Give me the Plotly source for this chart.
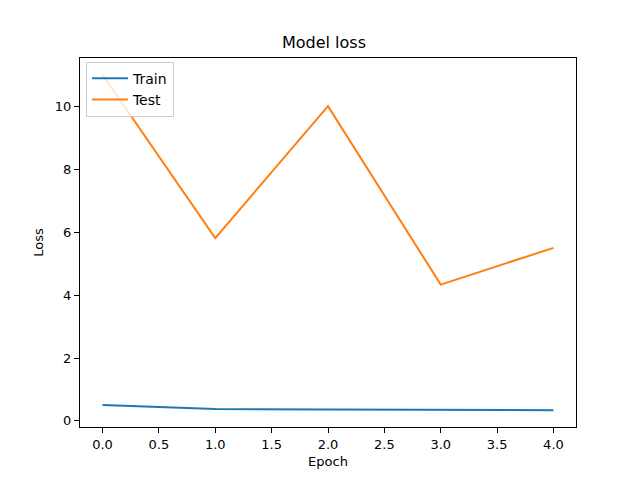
import plotly.graph_objects as go

epochs = [0, 1, 2, 3, 4]
train_loss = [0.51, 0.38, 0.36, 0.35, 0.34]
test_loss = [11.02, 5.82, 10.02, 4.34, 5.51]
x_ticks = [0.0, 0.5, 1.0, 1.5, 2.0, 2.5, 3.0, 3.5, 4.0]
y_ticks = [0, 2, 4, 6, 8, 10]

fig = go.Figure()
fig.add_trace(go.Scatter(x=epochs, y=train_loss, mode="lines", name="Train",
                         line=dict(color="#1f77b4", width=2)))
fig.add_trace(go.Scatter(x=epochs, y=test_loss, mode="lines", name="Test",
                         line=dict(color="#ff7f0e", width=2)))

axis_common = dict(showline=True, linecolor="black", linewidth=1, mirror=True,
                   ticks="outside", ticklen=5, tickcolor="black", showgrid=False,
                   zeroline=False, tickfont=dict(size=13, color="black"))

fig.update_layout(
    width=632, height=472,
    margin=dict(l=72, r=64, t=50, b=53),
    paper_bgcolor="white", plot_bgcolor="white",
    font=dict(family="DejaVu Sans", color="black", size=13),
    title=dict(text="Model loss", x=0.5, xanchor="center", y=0.927, yanchor="middle",
               font=dict(size=16)),
    xaxis=dict(range=[-0.2, 4.2], tickvals=x_ticks,
               ticktext=[f"{v:.1f}" for v in x_ticks],
               title=dict(text="Epoch", standoff=6, font=dict(size=13)), **axis_common),
    yaxis=dict(range=[-0.194, 11.554], tickvals=y_ticks,
               title=dict(text="Loss", standoff=8, font=dict(size=13)), **axis_common),
    legend=dict(x=0.012, y=0.99, xanchor="left", yanchor="top",
                bgcolor="rgba(255,255,255,0.8)", bordercolor="#cccccc", borderwidth=1,
                font=dict(size=14), tracegroupgap=0, itemwidth=36),
    showlegend=True,
)

fig.write_html("out.html")
